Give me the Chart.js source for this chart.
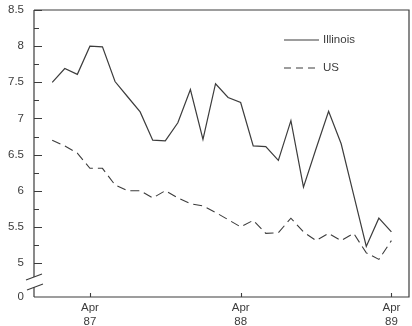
<!DOCTYPE html>
<html>
<head>
<meta charset="utf-8">
<script src="https://cdn.jsdelivr.net/npm/chart.js@4/dist/chart.umd.min.js"></script>
<style>
  html, body { margin: 0; padding: 0; background: #fff; }
  #wrap { width: 412px; height: 326px; }
</style>
</head>
<body>
<div id="wrap"><canvas id="c" width="412" height="326"></canvas></div>
<script>
// Monthly rates, January 1987 through April 1989
const months = [
  'Jan 87','Feb 87','Mar 87','Apr 87','May 87','Jun 87','Jul 87','Aug 87','Sep 87','Oct 87','Nov 87','Dec 87',
  'Jan 88','Feb 88','Mar 88','Apr 88','May 88','Jun 88','Jul 88','Aug 88','Sep 88','Oct 88','Nov 88','Dec 88',
  'Jan 89','Feb 89','Mar 89','Apr 89'
];
const illinois = [7.50,7.69,7.61,8.00,7.99,7.51,7.30,7.09,6.70,6.69,6.94,7.40,
                  6.71,7.48,7.29,7.22,6.62,6.61,6.42,6.97,6.05,6.58,7.10,6.65,
                  5.94,5.23,5.62,5.43];
const us = [6.70,6.62,6.52,6.31,6.31,6.08,6.00,6.00,5.90,6.00,5.90,5.82,
            5.79,5.70,5.60,5.50,5.59,5.41,5.42,5.62,5.43,5.31,5.41,5.31,
            5.41,5.14,5.05,5.31];
const seriesNames = ['Illinois', 'US'];

// Axis ticks
const xTickMonths = ['Apr 87', 'Apr 88', 'Apr 89'];
const yTickValues = [5, 5.5, 6, 6.5, 7, 7.5, 8, 8.5];
const yTickLabels = ['5', '5.5', '6', '6.5', '7', '7.5', '8', '8.5'];
const yBreakLabel = '0';   // value shown below the axis break
const yBottom = 4.53;      // where the broken axis reaches its zero line
const yTop = 8.5;

const INK = '#3c3c3c';
const FONT = { family: '"Liberation Sans", Arial, Helvetica, sans-serif', size: 11.5 };

const xTickIdx = xTickMonths.map(m => months.indexOf(m));
const toPoints = arr => arr.map((v, i) => ({ x: i, y: v }));

const framePlugin = {
  id: 'frame',
  afterDatasetsDraw(chart) {
    const { ctx, chartArea: a, scales: { x, y } } = chart;
    ctx.save();
    ctx.strokeStyle = INK;
    ctx.lineWidth = 1.2;
    ctx.lineCap = 'butt';

    // top, right and bottom of the frame
    ctx.beginPath();
    ctx.moveTo(a.left, a.top); ctx.lineTo(a.right, a.top);
    ctx.lineTo(a.right, a.bottom); ctx.lineTo(a.left, a.bottom);
    ctx.stroke();

    // left axis, interrupted by the break
    const brkHi = a.bottom - 20, brkLo = a.bottom - 10;
    ctx.beginPath();
    ctx.moveTo(a.left, a.top); ctx.lineTo(a.left, brkHi);
    ctx.moveTo(a.left, brkLo); ctx.lineTo(a.left, a.bottom);
    ctx.stroke();
    // break slashes
    ctx.lineWidth = 1.1;
    ctx.beginPath();
    ctx.moveTo(a.left - 8, brkHi + 3); ctx.lineTo(a.left + 8, brkHi - 3);
    ctx.moveTo(a.left - 7, brkLo + 3); ctx.lineTo(a.left + 9, brkLo - 3);
    ctx.stroke();

    // inward y ticks: major every 0.5, minor every 0.25
    ctx.lineWidth = 1.1;
    ctx.beginPath();
    for (let v = 5; v <= yTop + 1e-9; v += 0.25) {
      const py = Math.round(y.getPixelForValue(v)) + 0.5;
      const major = Math.abs(v * 2 - Math.round(v * 2)) < 1e-9;
      ctx.moveTo(a.left, py); ctx.lineTo(a.left + (major ? 8 : 5), py);
    }
    ctx.stroke();

    // upward x ticks
    ctx.beginPath();
    xTickIdx.forEach(i => {
      const px = Math.round(x.getPixelForValue(i)) + 0.5;
      ctx.moveTo(px, a.bottom); ctx.lineTo(px, a.bottom - 4);
    });
    ctx.stroke();

    // legend
    const lx0 = a.right - 125, lx1 = a.right - 90, tx = a.right - 86;
    const rows = [a.top + 30, a.top + 58];
    ctx.lineWidth = 1.2;
    ctx.beginPath();
    ctx.moveTo(lx0, rows[0]); ctx.lineTo(lx1, rows[0]);
    ctx.stroke();
    ctx.setLineDash([7, 5]);
    ctx.beginPath();
    ctx.moveTo(lx0, rows[1]); ctx.lineTo(lx1, rows[1]);
    ctx.stroke();
    ctx.setLineDash([]);
    ctx.fillStyle = INK;
    ctx.font = `${FONT.size}px ${FONT.family}`;
    ctx.textBaseline = 'middle';
    ctx.textAlign = 'left';
    ctx.fillText(seriesNames[0], tx, rows[0]);
    ctx.fillText(seriesNames[1], tx, rows[1]);
    ctx.restore();
  }
};

new Chart(document.getElementById('c'), {
  type: 'line',
  data: {
    datasets: [
      { label: seriesNames[0], data: toPoints(illinois), borderColor: INK, borderWidth: 1.2,
        pointRadius: 0, tension: 0, fill: false },
      { label: seriesNames[1], data: toPoints(us), borderColor: INK, borderWidth: 1.1,
        borderDash: [9, 5], pointRadius: 0, tension: 0, fill: false }
    ]
  },
  options: {
    responsive: false,
    animation: false,
    devicePixelRatio: 1,
    layout: { padding: { top: 10, right: 3, left: 0, bottom: 0 } },
    plugins: { legend: { display: false }, tooltip: { enabled: false } },
    scales: {
      x: {
        type: 'linear',
        min: -1.45, max: 28.4,
        grid: { display: false, drawTicks: false },
        border: { display: false },
        afterBuildTicks: s => { s.ticks = xTickIdx.map(v => ({ value: v })); },
        afterFit: s => { s.height = 29; s.paddingLeft = 0; s.paddingRight = 0; },
        ticks: {
          autoSkip: false, maxRotation: 0, padding: 4,
          color: INK, font: FONT,
          callback: (v, i) => xTickMonths[i].split(' ')
        }
      },
      y: {
        type: 'linear',
        min: yBottom, max: yTop,
        grid: { display: false, drawTicks: false },
        border: { display: false },
        afterBuildTicks: s => {
          s.ticks = [{ value: yBottom }].concat(yTickValues.map(v => ({ value: v })));
        },
        afterFit: s => { s.width = 34; s.paddingTop = 0; s.paddingBottom = 0; },
        ticks: {
          autoSkip: false, padding: 10,
          color: INK, font: FONT,
          callback: (v, i) => i === 0 ? yBreakLabel : yTickLabels[i - 1]
        }
      }
    }
  },
  plugins: [framePlugin]
});
</script>
</body>
</html>
